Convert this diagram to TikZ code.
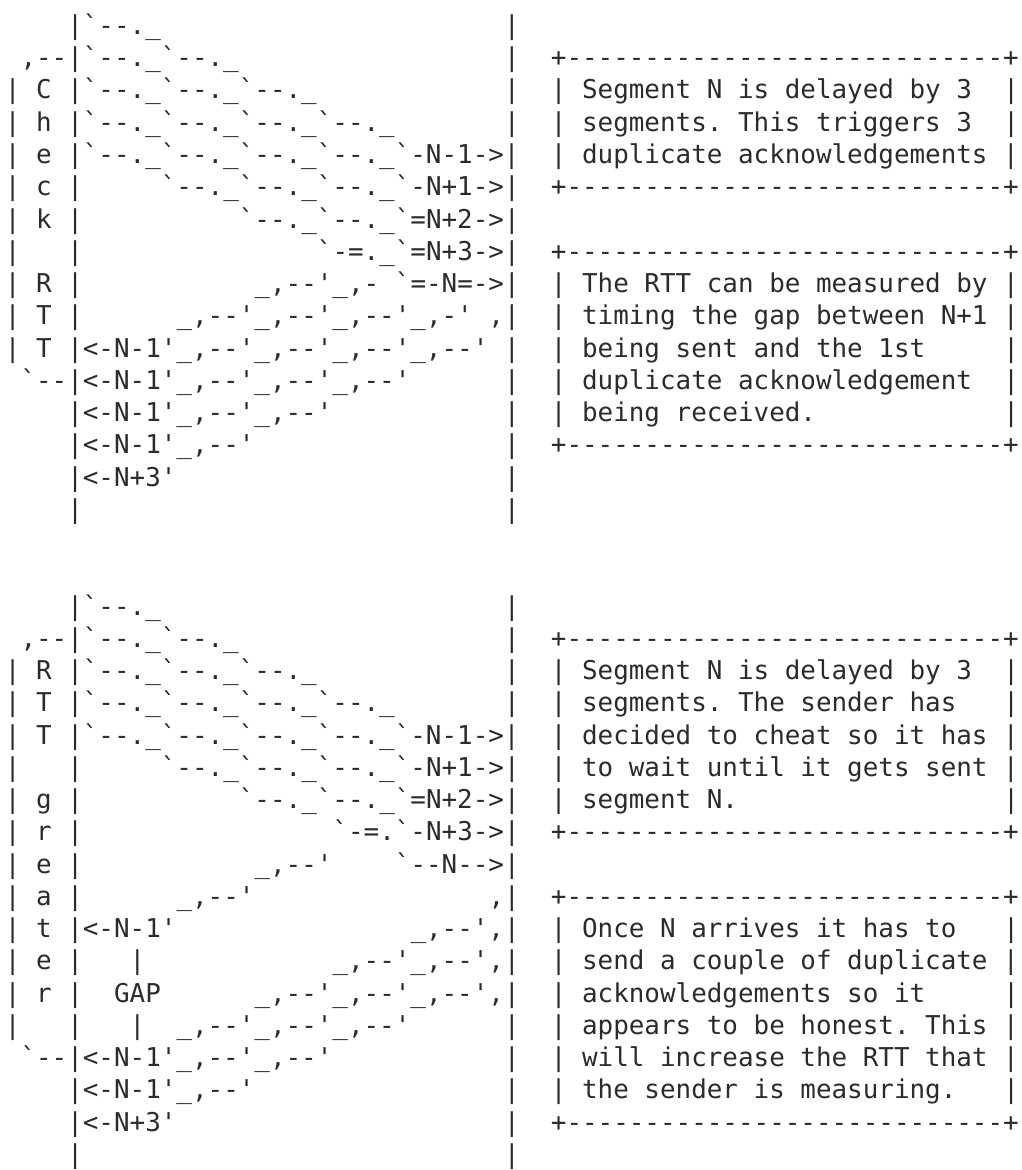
\documentclass[tikz,border=0pt]{standalone}
\usepackage{fontspec}
\setmonofont{DejaVu Sans Mono}
\definecolor{inkc}{HTML}{2B2B2B}
\newcommand\cw{15.6}
\newcommand\lh{32.25}
\newcommand\xo{4.9}
\newcommand\yo{34.5}
\tikzset{art/.style={anchor=base west,inner sep=0pt,outer sep=0pt,text=inkc,
  font=\ttfamily\fontsize{19.43pt}{24pt}\selectfont\frenchspacing}}
\newcommand\seg[3]{\node[art] (r#1c#2) at ({\xo+#2*\cw},{\yo+(#1-1)*\lh}) {#3};}
\newcommand\boxrule{+----------------------------+}
\begin{document}
\begin{tikzpicture}[x=0.75pt,y=-0.75pt]
\useasboundingbox (0,0) rectangle (1021,1170);
% ---------------- block 1 ----------------
\seg{1}{4}{|`--.\_}\seg{1}{32}{|}
\seg{2}{1}{,--|`--.\_`--.\_}\seg{2}{32}{|}\seg{2}{35}{\boxrule}
\seg{3}{0}{| C |`--.\_`--.\_`--.\_}\seg{3}{32}{|}\seg{3}{35}{| Segment N is delayed by 3}\seg{3}{64}{|}
\seg{4}{0}{| h |`--.\_`--.\_`--.\_`--.\_}\seg{4}{32}{|}\seg{4}{35}{| segments. This triggers 3}\seg{4}{64}{|}
\seg{5}{0}{| e |`--.\_`--.\_`--.\_`--.\_`-N-1->|}\seg{5}{35}{| duplicate acknowledgements |}
\seg{6}{0}{| c |}\seg{6}{10}{`--.\_`--.\_`--.\_`-N+1->|}\seg{6}{35}{\boxrule}
\seg{7}{0}{| k |}\seg{7}{15}{`--.\_`--.\_`=N+2->|}
\seg{8}{0}{|}\seg{8}{4}{|}\seg{8}{20}{`-=.\_`=N+3->|}\seg{8}{35}{\boxrule}
\seg{9}{0}{| R |}\seg{9}{16}{\_,--'\_,-}\seg{9}{25}{`=-N=->|}\seg{9}{35}{| The RTT can be measured by |}
\seg{10}{0}{| T |}\seg{10}{11}{\_,--'\_,--'\_,--'\_,-' ,|}\seg{10}{35}{| timing the gap between N+1 |}
\seg{11}{0}{| T |<-N-1'\_,--'\_,--'\_,--'\_,--'}\seg{11}{32}{|}\seg{11}{35}{| being sent and the 1st}\seg{11}{64}{|}
\seg{12}{1}{`--|<-N-1'\_,--'\_,--'\_,--'}\seg{12}{32}{|}\seg{12}{35}{| duplicate acknowledgement}\seg{12}{64}{|}
\seg{13}{4}{|<-N-1'\_,--'\_,--'}\seg{13}{32}{|}\seg{13}{35}{| being received.}\seg{13}{64}{|}
\seg{14}{4}{|<-N-1'\_,--'}\seg{14}{32}{|}\seg{14}{35}{\boxrule}
\seg{15}{4}{|<-N+3'}\seg{15}{32}{|}
\seg{16}{4}{|}\seg{16}{32}{|}
% ---------------- block 2 ----------------
\seg{19}{4}{|`--.\_}\seg{19}{32}{|}
\seg{20}{1}{,--|`--.\_`--.\_}\seg{20}{32}{|}\seg{20}{35}{\boxrule}
\seg{21}{0}{| R |`--.\_`--.\_`--.\_}\seg{21}{32}{|}\seg{21}{35}{| Segment N is delayed by 3}\seg{21}{64}{|}
\seg{22}{0}{| T |`--.\_`--.\_`--.\_`--.\_}\seg{22}{32}{|}\seg{22}{35}{| segments. The sender has}\seg{22}{64}{|}
\seg{23}{0}{| T |`--.\_`--.\_`--.\_`--.\_`-N-1->|}\seg{23}{35}{| decided to cheat so it has |}
\seg{24}{0}{|}\seg{24}{4}{|}\seg{24}{10}{`--.\_`--.\_`--.\_`-N+1->|}\seg{24}{35}{| to wait until it gets sent |}
\seg{25}{0}{| g |}\seg{25}{15}{`--.\_`--.\_`=N+2->|}\seg{25}{35}{| segment N.}\seg{25}{64}{|}
\seg{26}{0}{| r |}\seg{26}{21}{`-=.`-N+3->|}\seg{26}{35}{\boxrule}
\seg{27}{0}{| e |}\seg{27}{16}{\_,--'}\seg{27}{25}{`--N-->|}
\seg{28}{0}{| a |}\seg{28}{11}{\_,--'}\seg{28}{31}{,|}\seg{28}{35}{\boxrule}
\seg{29}{0}{| t |<-N-1'}\seg{29}{26}{\_,--',|}\seg{29}{35}{| Once N arrives it has to}\seg{29}{64}{|}
\seg{30}{0}{| e |}\seg{30}{8}{|}\seg{30}{21}{\_,--'\_,--',|}\seg{30}{35}{| send a couple of duplicate |}
\seg{31}{0}{| r |}\seg{31}{7}{GAP}\seg{31}{16}{\_,--'\_,--'\_,--',|}\seg{31}{35}{| acknowledgements so it}\seg{31}{64}{|}
\seg{32}{0}{|}\seg{32}{4}{|}\seg{32}{8}{|}\seg{32}{11}{\_,--'\_,--'\_,--'}\seg{32}{32}{|}\seg{32}{35}{| appears to be honest. This |}
\seg{33}{1}{`--|<-N-1'\_,--'\_,--'}\seg{33}{32}{|}\seg{33}{35}{| will increase the RTT that |}
\seg{34}{4}{|<-N-1'\_,--'}\seg{34}{32}{|}\seg{34}{35}{| the sender is measuring.}\seg{34}{64}{|}
\seg{35}{4}{|<-N+3'}\seg{35}{32}{|}\seg{35}{35}{\boxrule}
\seg{36}{4}{|}\seg{36}{32}{|}
\end{tikzpicture}
\end{document}
